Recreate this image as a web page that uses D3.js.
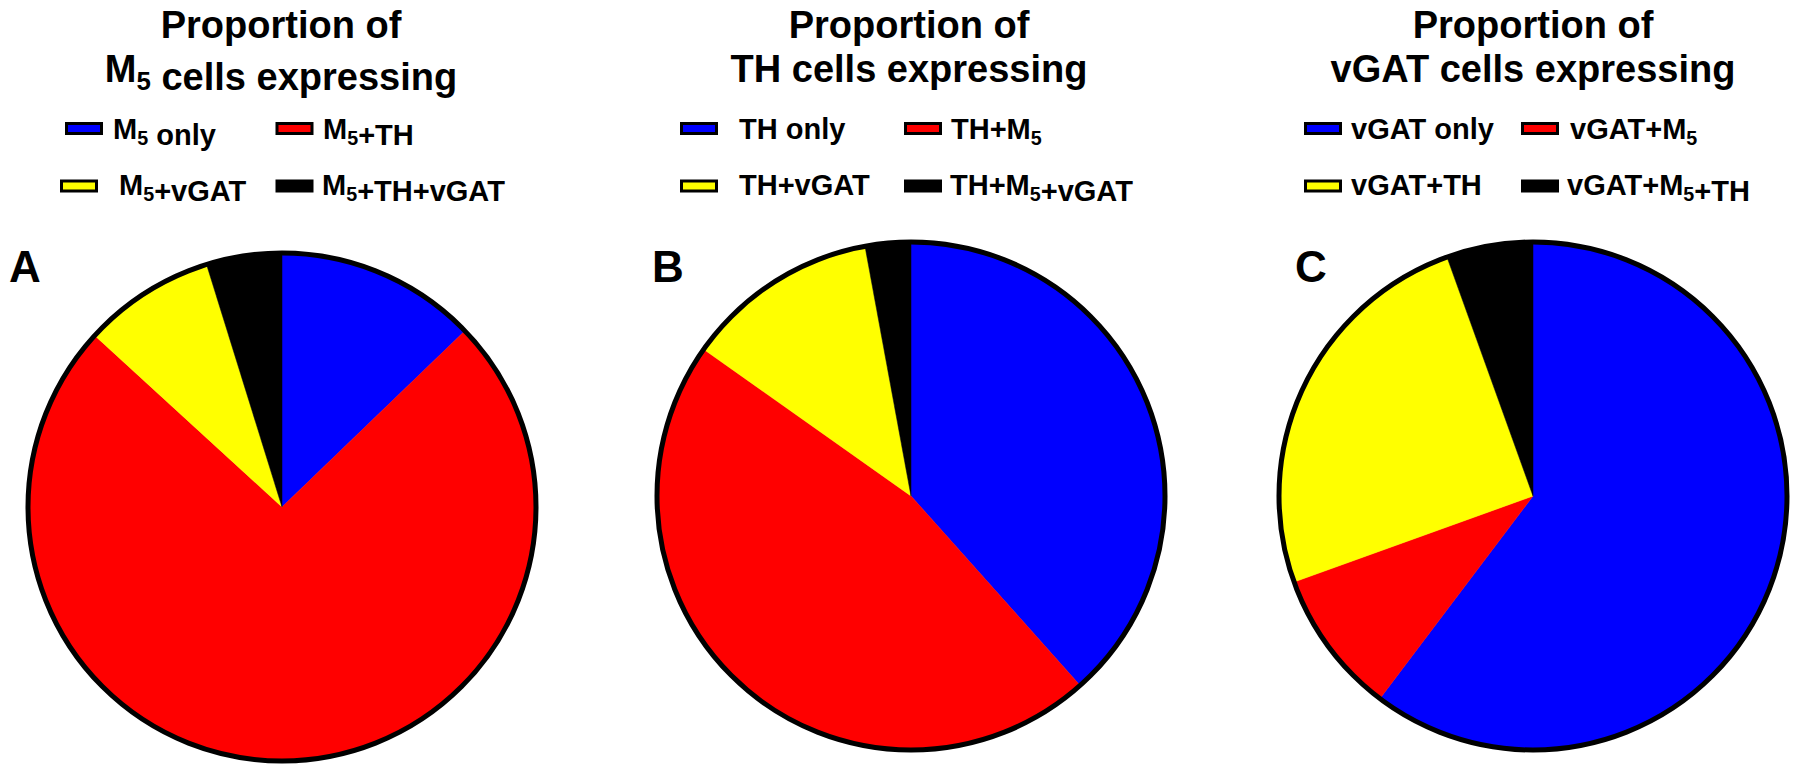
<!DOCTYPE html>
<html>
<head>
<meta charset="utf-8">
<script src="https://cdn.jsdelivr.net/npm/d3@7"></script>
<style>
  html, body { margin: 0; padding: 0; background: #fff; }
  svg { display: block; }
  text { font-family: "Liberation Sans", Arial, Helvetica, sans-serif; font-weight: bold; fill: #000; }
</style>
</head>
<body>
<svg id="chart" width="1800" height="775"></svg>
<script>
// ---------------- DATA ----------------
const panelLetters = ["A", "B", "C"];
const titleLine1 = ["Proportion of", "Proportion of", "Proportion of"];
const titleLine2 = ["M{5} cells expressing", "TH cells expressing", "vGAT cells expressing"];
const sliceColors = ["#0000FF", "#FF0000", "#FFFF00", "#000000"];
const legendA = ["M{5} only", "M{5}+TH", "M{5}+vGAT", "M{5}+TH+vGAT"];
const legendB = ["TH only", "TH+M{5}", "TH+vGAT", "TH+M{5}+vGAT"];
const legendC = ["vGAT only", "vGAT+M{5}", "vGAT+TH", "vGAT+M{5}+TH"];
// percentage of cells (blue, red, yellow, black), clockwise from 12 o'clock
const valuesA = [12.8, 74.0, 8.4, 4.8];
const valuesB = [38.4, 46.4, 12.3, 2.9];
const valuesC = [60.3, 9.2, 25.0, 5.5];

const legends = [legendA, legendB, legendC];
const values = [valuesA, valuesB, valuesC];

// ---------------- LAYOUT ----------------
const layout = [
  { cx: 282, cy: 507, titleX: 281, letterX: 9,
    swX: [65, 275.5, 60, 275.5], txX: [113, 323, 119, 322] },
  { cx: 911, cy: 496, titleX: 909, letterX: 652,
    swX: [680, 904, 680, 904], txX: [739, 951, 739, 950] },
  { cx: 1533, cy: 496, titleX: 1533, letterX: 1295,
    swX: [1304, 1521, 1304, 1521], txX: [1351, 1570, 1351, 1567] }
];
const radius = 254;
const titleFont = 38, legendFont = 29, letterFont = 44;
const titleY = [38, 82];
const rowSwY = [122, 179.5], rowTxY = [139, 195];
const swW = 38, swH = 13, swStroke = 3;

const svg = d3.select("#chart");

function richText(sel, str, size) {
  // parse "{5}" as subscript
  const parts = str.split(/(\{[^}]*\})/).filter(s => s.length);
  parts.forEach(p => {
    if (p.startsWith("{")) {
      sel.append("tspan")
        .attr("font-size", size * 0.68)
        .attr("dy", size * 0.22)
        .text(p.slice(1, -1));
      sel.append("tspan").attr("dy", -size * 0.22).text("");
    } else {
      sel.append("tspan").text(p);
    }
  });
}

const pie = d3.pie().sort(null).value(d => d);
const arc = d3.arc().innerRadius(0).outerRadius(radius);
const color = d3.scaleOrdinal().domain(d3.range(4)).range(sliceColors);

panelLetters.forEach((letter, i) => {
  const L = layout[i];
  const g = svg.append("g");

  // titles
  [titleLine1[i], titleLine2[i]].forEach((str, k) => {
    const t = g.append("text").attr("x", L.titleX).attr("y", titleY[k])
      .attr("text-anchor", "middle").attr("font-size", titleFont);
    richText(t, str, titleFont);
  });

  // legend
  legends[i].forEach((lab, j) => {
    const row = Math.floor(j / 2);
    g.append("rect")
      .attr("x", L.swX[j] + swStroke / 2)
      .attr("y", rowSwY[row] + swStroke / 2)
      .attr("width", swW - swStroke)
      .attr("height", swH - swStroke)
      .attr("fill", color(j))
      .attr("stroke", "#000")
      .attr("stroke-width", swStroke);
    const t = g.append("text").attr("x", L.txX[j]).attr("y", rowTxY[row])
      .attr("font-size", legendFont);
    richText(t, lab, legendFont);
  });

  // panel letter
  g.append("text").attr("x", L.letterX).attr("y", 282)
    .attr("font-size", letterFont).text(letter);

  // pie
  const pg = g.append("g").attr("transform", `translate(${L.cx},${L.cy})`);
  pg.selectAll("path").data(pie(values[i])).join("path")
    .attr("d", arc)
    .attr("fill", (d, k) => color(k))
    .attr("stroke", (d, k) => color(k))
    .attr("stroke-width", 0.5);
  pg.append("circle").attr("r", radius)
    .attr("fill", "none").attr("stroke", "#000").attr("stroke-width", 5);
});
</script>
</body>
</html>
